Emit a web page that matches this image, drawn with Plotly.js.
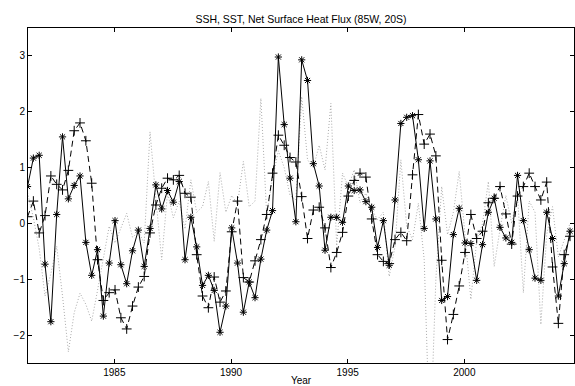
<!DOCTYPE html>
<html>
<head>
<meta charset="utf-8">
<script src="https://cdn.plot.ly/plotly-3.0.1.min.js"></script>
<style>html,body{margin:0;padding:0;background:#fff;}#chart{width:575px;height:386px;}</style>
</head>
<body>
<div id="chart"></div>
<script>
// quarterly samples
const startYear = 1981.28;
const stepYears = 0.25;

const ssh = [0.66,1.17,1.22,-0.73,-1.76,0.16,1.55,0.44,0.68,0.85,
  -0.34,-0.93,-0.47,-1.66,-0.71,0.05,-0.74,-1.08,-0.49,-0.12,
  -0.77,-0.09,0.69,0.26,0.59,0.38,0.75,-0.65,0.11,-0.42,
  -1.11,-0.93,-1.20,-1.95,-1.48,-0.08,-0.71,-1.59,-1.05,-1.33,
  -0.64,-0.12,0.23,2.98,1.77,0.81,0.03,2.93,2.56,1.07,
  0.67,-0.48,0.11,0.11,0.02,0.67,0.59,0.60,0.39,0.29,
  -0.43,0.05,-0.75,0.42,1.79,1.90,1.93,1.14,-0.09,1.12,
  0.08,-1.38,-1.31,-0.20,0.27,-0.35,-0.36,-1.02,-0.38,0.20,
  0.45,-0.07,-0.26,-0.34,0.86,0.05,-0.47,-0.98,-1.02,0.20,
  -0.27,-1.30,-0.72,-0.14];

const sst = [0.12,0.40,-0.17,0.14,0.85,0.70,0.60,0.95,1.66,1.80,
  1.48,0.72,-0.65,-1.38,-1.24,-1.19,-1.69,-1.89,-1.48,-1.14,
  -0.95,-0.17,0.33,0.63,0.81,0.78,0.86,0.54,0.47,-0.56,
  -1.30,-1.51,-0.96,-1.41,-1.21,-0.15,0.40,-0.97,-1.05,-0.67,
  -0.29,0.16,0.90,1.58,1.40,1.18,1.10,0.48,-0.27,0.24,
  0.29,-0.08,-0.79,-0.52,-0.16,0.49,0.77,0.90,0.83,0.08,
  -0.56,-0.68,-0.72,-0.29,-0.16,-0.31,0.87,1.95,1.42,1.60,
  1.21,-0.66,-2.08,-1.63,-1.12,-0.52,0.16,-0.27,-0.14,0.37,
  0.45,0.66,0.17,-0.37,0.49,0.66,0.90,0.66,0.42,0.74,
  -0.78,-1.79,-0.56,-0.23];

const heatFlux = [0.55,0.10,-0.45,-1.30,-0.90,-0.41,-1.30,-2.30,-1.60,-1.25,
  -1.45,-1.75,-1.20,-0.60,-0.05,-0.35,-0.10,0.18,-0.25,-0.15,
  -0.35,1.64,0.45,-0.65,0.55,0.10,0.40,-0.10,0.78,0.20,
  0.30,0.75,-0.32,0.91,0.20,0.50,0.35,1.11,0.30,0.40,
  2.24,0.15,0.80,1.30,1.00,0.50,0.42,2.27,1.14,1.00,
  1.40,0.96,2.15,-0.40,0.90,0.66,0.96,0.37,0.54,0.25,
  0.07,0.20,-0.95,-0.41,1.14,-0.05,-0.29,0.36,-0.65,-4.00,
  -1.00,0.66,-0.20,0.20,0.93,-0.20,-1.36,-0.30,0.00,0.75,
  -0.77,-0.10,0.50,0.00,0.50,-1.24,0.40,0.20,-1.81,-0.20,
  0.30,-0.60,-0.30,0.00];

const xTickVals = [1985, 1990, 1995, 2000];
const xTickText = ['1985', '1990', '1995', '2000'];
const yTickVals = [-2, -1, 0, 1, 2, 3];

const years = ssh.map((_, i) => startYear + stepYears * i);

const font = 'Liberation Sans, Arial, Helvetica, sans-serif';

const traces = [
  {x: years, y: heatFlux, type: 'scatter', mode: 'lines', name: 'Net Surface Heat Flux',
   line: {color: '#a0a0a0', width: 0.9, dash: '1px,2px'}},
  {x: years, y: ssh, type: 'scatter', mode: 'lines+markers', name: 'SSH',
   line: {color: '#000', width: 1},
   marker: {symbol: 'asterisk-open', size: 6, color: '#000', line: {color: '#000', width: 1}}},
  {x: years, y: sst, type: 'scatter', mode: 'lines+markers', name: 'SST',
   line: {color: '#000', width: 1, dash: '6px,4px'},
   marker: {symbol: 'cross-thin-open', size: 7, color: '#000', line: {color: '#000', width: 1}}}
];

const axisCommon = {
  showgrid: false, zeroline: false, showline: true, linecolor: '#000', linewidth: 1,
  mirror: 'ticks', ticks: 'inside', ticklen: 4, tickwidth: 1, tickcolor: '#000',
  tickfont: {family: font, size: 10, color: '#000'}
};

const layout = {
  width: 575, height: 386,
  margin: {l: 28, r: 1, t: 28, b: 23},
  paper_bgcolor: '#fff', plot_bgcolor: '#fff',
  showlegend: false,
  title: {text: 'SSH, SST, Net Surface Heat Flux (85W, 20S)', font: {family: font, size: 10.5, color: '#000'},
          x: 0.5, xref: 'paper', y: 1 - 19/386, yref: 'container', yanchor: 'middle'},
  xaxis: Object.assign({}, axisCommon, {
    range: [1981.3, 2004.7], tickvals: xTickVals, ticktext: xTickText,
    title: {text: 'Year', font: {family: font, size: 10, color: '#000'}, standoff: 3}
  }),
  yaxis: Object.assign({}, axisCommon, {
    range: [-2.5, 3.5], tickvals: yTickVals
  })
};

Plotly.newPlot('chart', traces, layout, {displayModeBar: false, staticPlot: true});
</script>
</body>
</html>
